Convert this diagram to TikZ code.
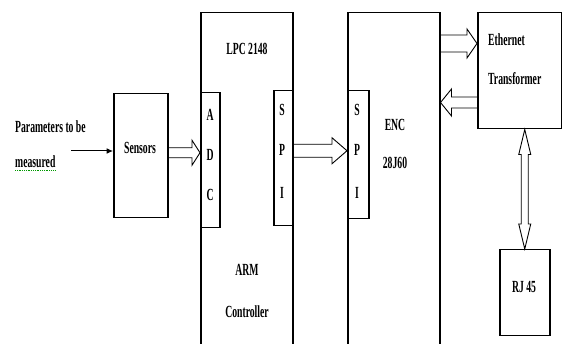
\documentclass[tikz,border=0pt]{standalone}
\usepackage{fontspec}
\setmainfont{Liberation Serif}[FakeStretch=0.57]
\usepackage{tikz}
\usetikzlibrary{arrows.meta,calc}
\tikzset{
  blockbox/.style={
    draw=black,
    fill=white,
    line width=1.5pt,
    anchor=north west,
    inner sep=0pt
  },
  blocktext/.style={
    font=\bfseries\fontsize{17}{19}\selectfont,
    inner sep=0pt
  },
  hollowline/.style={
    draw=black,
    line width=0.9pt,
    line join=miter
  },
  signalline/.style={
    draw=black,
    line width=1pt,
    -{Latex[length=2.2mm,width=2mm]}
  }
}
% from, to, shaft half width, head half width, head length
\newcommand{\hollowarrow}[5]{%
  \coordinate (hb) at ($(#2)!#5!(#1)$);
  \draw[hollowline] ($(#1)!#3!90:(#2)$) -- ($(hb)!#3!90:(#2)$) -- ($(hb)!#4!90:(#2)$) -- (#2)
    -- ($(hb)!#4!-90:(#2)$) -- ($(hb)!#3!-90:(#2)$) -- ($(#1)!#3!-90:(#2)$);
}
\newcommand{\hollowdouble}[5]{%
  \coordinate (ha) at ($(#1)!#5!(#2)$);
  \coordinate (hb) at ($(#2)!#5!(#1)$);
  \draw[hollowline] ($(ha)!#3!90:(#2)$) -- ($(hb)!#3!90:(#2)$) -- ($(hb)!#4!90:(#2)$) -- (#2)
    -- ($(hb)!#4!-90:(#2)$) -- ($(hb)!#3!-90:(#2)$) -- ($(ha)!#3!-90:(#2)$)
    -- ($(ha)!#4!-90:(#2)$) -- (#1) -- ($(ha)!#4!90:(#2)$) -- cycle;
}

\begin{document}
\begin{tikzpicture}[x=1pt,y=-1pt]
  \clip (0,0) rectangle (562,344);
  % blocks
  \node[blockbox,minimum width=54pt,minimum height=124pt] (sensors) at (113,93) {};
  \node[blockbox,minimum width=92pt,minimum height=345pt] (lpc) at (200,12) {};
  \node[blockbox,minimum width=19pt,minimum height=135pt] (adc) at (200,92) {};
  \node[blockbox,minimum width=19pt,minimum height=135pt] (spiA) at (273,90) {};
  \node[blockbox,minimum width=92pt,minimum height=345pt] (enc) at (347,12) {};
  \node[blockbox,minimum width=21pt,minimum height=128pt] (spiB) at (347,90) {};
  \node[blockbox,minimum width=84pt,minimum height=116pt] (ethtr) at (477,12) {};
  \node[blockbox,minimum width=50pt,minimum height=86pt] (rj) at (499,249) {};
  % labels
  \node[blocktext,anchor=west] (paramA) at (15,127) {Parameters to be};
  \node[blocktext,anchor=west] (paramB) at (15,162) {measured};
  \draw[green!60!black,densely dotted,line width=0.8pt] ([yshift=-2.5pt]paramB.base west) -- ([yshift=-2.5pt]paramB.base east);
  \node[blocktext] (sensname) at (140,148) {Sensors};
  \node[blocktext] (lpcname) at (247,49) {LPC 2148};
  \node[blocktext] (armname) at (247,270) {ARM};
  \node[blocktext] (ctrlname) at (247,312) {Controller};
  \node[blocktext] (encname) at (395,125) {ENC};
  \node[blocktext] (encnum) at (395,163) {28J60};
  \node[blocktext,anchor=west] (ethname) at (488,40) {Ethernet};
  \node[blocktext,anchor=west] (trname) at (488,79) {Transformer};
  \node[blocktext] (rjname) at (524,287) {RJ 45};
  \foreach \ltr/\yy in {A/115,D/155,C/195}{\node[blocktext] at (210,\yy) {\ltr};}
  \foreach \ltr/\yy in {S/110,P/150,I/193}{
    \node[blocktext] at (282,\yy) {\ltr};
    \node[blocktext] at (357,\yy) {\ltr};
  }
  % connectors
  \coordinate (in) at (71,151);
  \draw[signalline] (in) -- (in -| sensors.west);
  \coordinate (s1) at ([yshift=3pt]sensors.east);
  \coordinate (s2) at (s1 -| adc.west);
  \hollowarrow{s1}{s2}{5pt}{12.5pt}{8pt}
  \coordinate (p1) at ([yshift=7.5pt]spiA.east);
  \coordinate (p2) at (p1 -| spiB.west);
  \hollowarrow{p1}{p2}{6.5pt}{13pt}{15pt}
  \coordinate (e1) at ([yshift=-31.5pt]enc.north east);
  \coordinate (e2) at (e1 -| ethtr.west);
  \hollowarrow{e1}{e2}{8.5pt}{14.5pt}{10pt}
  \coordinate (b1) at ([yshift=-90.5pt]ethtr.north west);
  \coordinate (b2) at (b1 -| enc.east);
  \hollowarrow{b1}{b2}{5.5pt}{13.5pt}{11pt}
  \coordinate (r1) at (rj.north);
  \coordinate (r2) at (r1 |- ethtr.south);
  \hollowdouble{r1}{r2}{3.5pt}{6pt}{25pt}
\end{tikzpicture}
\end{document}
